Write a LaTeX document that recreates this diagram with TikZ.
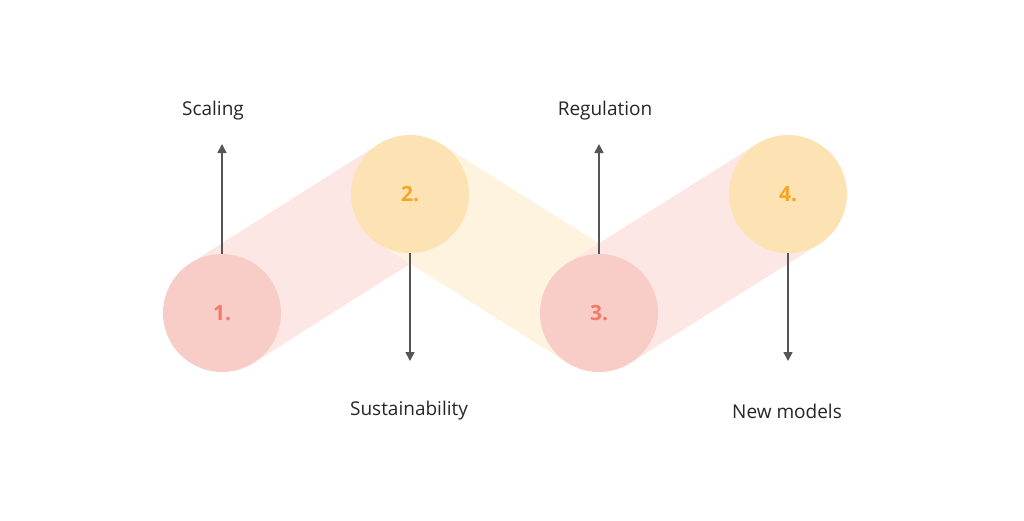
\documentclass[tikz,border=0pt]{standalone}
\usepackage{fontspec}
\setmainfont{Open Sans}
\usetikzlibrary{arrows.meta,calc}
\definecolor{pk}{HTML}{F9CDC7}
\definecolor{pkb}{HTML}{FDE7E5}
\definecolor{yl}{HTML}{FDE3B3}
\definecolor{ylb}{HTML}{FEF3DE}
\definecolor{pkt}{HTML}{F2796A}
\definecolor{ylt}{HTML}{F6A623}
\definecolor{ar}{HTML}{555555}
\begin{document}
\begin{tikzpicture}[x=1pt,y=-1pt,
  circ/.style={circle,minimum size=118pt,inner sep=0pt,font=\fontsize{21}{21}\selectfont\bfseries},
  lab/.style={font=\fontsize{19}{19}\selectfont,text=black!85},
  arr/.style={draw=ar,line width=1.6pt,-{Triangle[length=9pt,width=9pt]}}]
\useasboundingbox (0,0) rectangle (1024,520);
\coordinate (c1) at (222,313);
\coordinate (c2) at (410,194);
\coordinate (c3) at (599,313);
\coordinate (c4) at (788,194);
\newcommand\band[3]{\fill[#3] ($(#1)!59pt!90:(#2)$) -- ($(#2)!59pt!-90:(#1)$) -- ($(#2)!59pt!90:(#1)$) -- ($(#1)!59pt!-90:(#2)$) -- cycle;}
\band{c1}{c2}{pkb}
\band{c2}{c3}{ylb}
\band{c3}{c4}{pkb}
\node[circ,fill=pk,text=pkt] (n1) at (c1) {1.};
\node[circ,fill=yl,text=ylt] (n2) at (c2) {2.};
\node[circ,fill=pk,text=pkt] (n3) at (c3) {3.};
\node[circ,fill=yl,text=ylt] (n4) at (c4) {4.};
\coordinate (t1) at (222,144);
\coordinate (t2) at (410,361);
\coordinate (t3) at (599,144);
\coordinate (t4) at (788,361);
\draw[arr] (n1.north) -- (t1);
\draw[arr] (n2.south) -- (t2);
\draw[arr] (n3.north) -- (t3);
\draw[arr] (n4.south) -- (t4);
\node[lab] (l1) at (213,111) {Scaling};
\node[lab] (l2) at (409,411) {Sustainability};
\node[lab] (l3) at (605,111) {Regulation};
\node[lab] (l4) at (787,411) {New models};
\end{tikzpicture}
\end{document}
